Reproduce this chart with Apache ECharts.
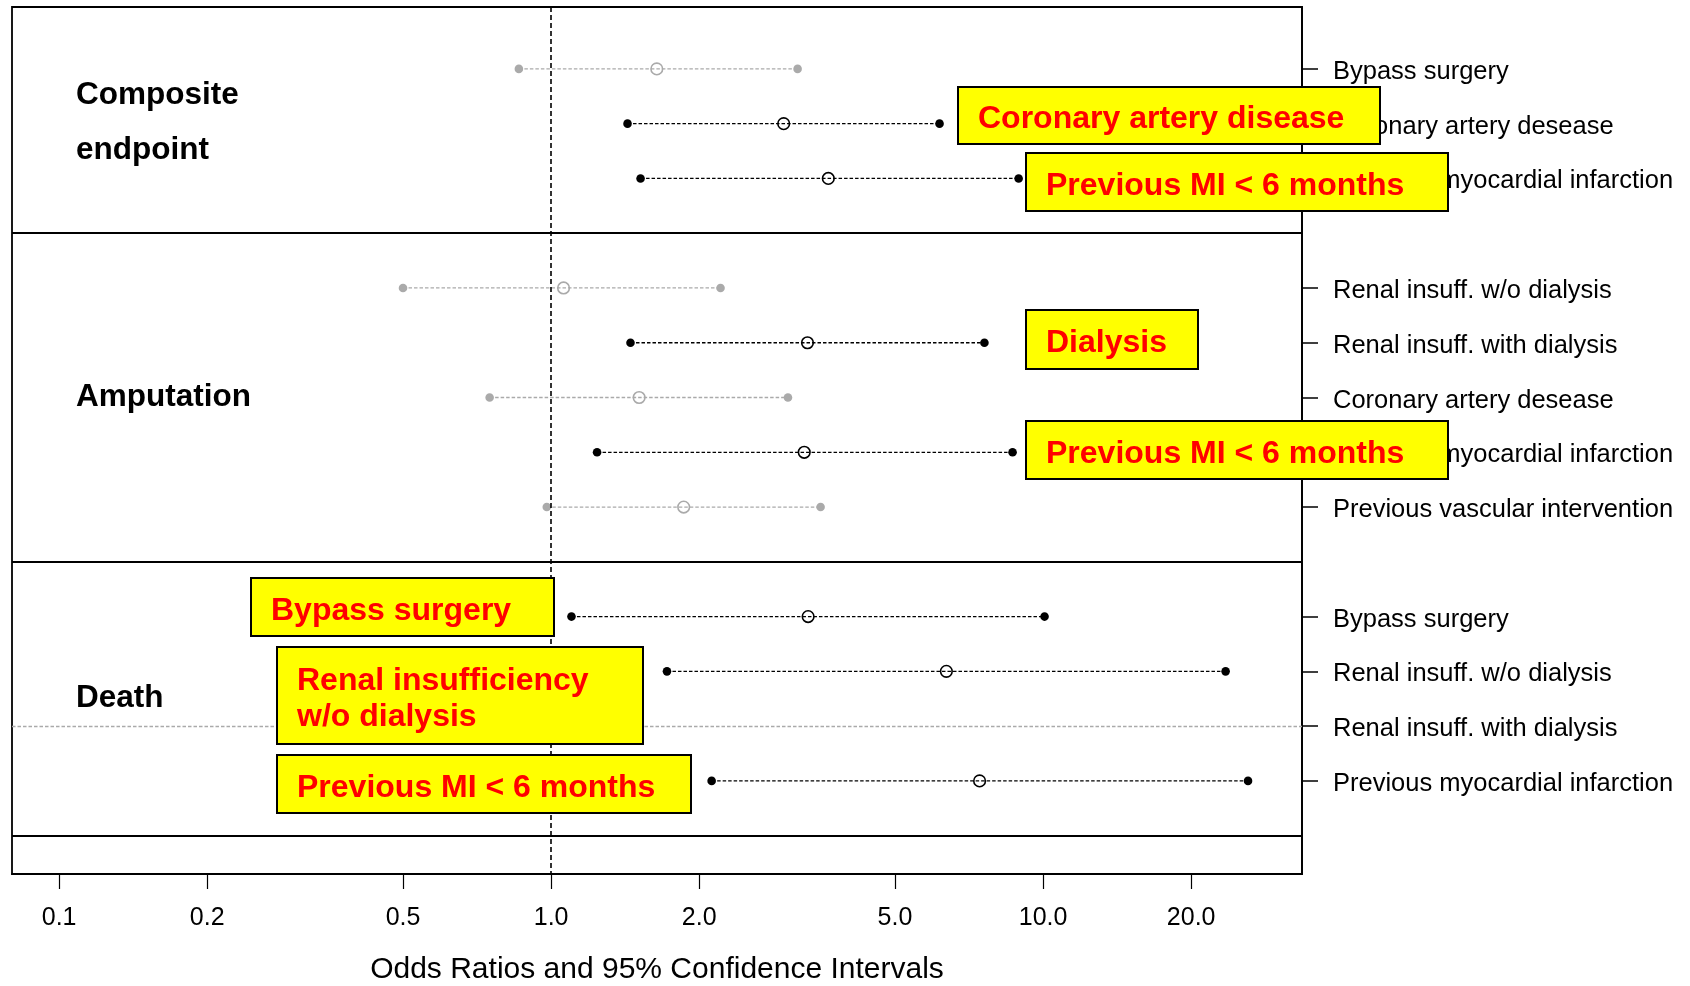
<!DOCTYPE html>
<html>
<head>
<meta charset="utf-8">
<script src="https://cdn.jsdelivr.net/npm/echarts@6/dist/echarts.min.js"></script>
<style>
  html, body { margin: 0; padding: 0; background: #ffffff; }
  #chart { width: 1690px; height: 986px; }
</style>
</head>
<body>
<div id="chart"></div>
<script>
const FONT = '"Liberation Sans", Arial, Helvetica, sans-serif';

// Endpoints and the risk factors evaluated for each of them
const endpointGroups = ['Composite\nendpoint', 'Amputation', 'Death'];
const riskFactors = [
  ['Bypass surgery', 'Coronary artery desease', 'Previous myocardial infarction'],
  ['Renal insuff. w/o dialysis', 'Renal insuff. with dialysis', 'Coronary artery desease',
   'Previous myocardial infarction', 'Previous vascular intervention'],
  ['Bypass surgery', 'Renal insuff. w/o dialysis', 'Renal insuff. with dialysis',
   'Previous myocardial infarction']
];

// Odds ratios with lower / upper 95% confidence limits (null = not estimable)
const ciLower   = [[0.86, 1.43, 1.52], [0.50, 1.45, 0.75, 1.24, 0.98], [1.10, 1.72, null, 2.12]];
const oddsRatio = [[1.64, 2.97, 3.66], [1.06, 3.32, 1.51, 3.27, 1.86], [3.33, 6.36, null, 7.43]];
const ciUpper   = [[3.17, 6.16, 8.92], [2.21, 7.60, 3.03, 8.67, 3.53], [10.07, 23.5, null, 26.1]];

// Log-scale tick marks of the odds-ratio axis
const xTicks = [0.1, 0.2, 0.5, 1, 2, 5, 10, 20];

// Highlighted significant risk factors
const callouts = ['Coronary artery disease', 'Previous MI < 6 months', 'Dialysis',
                  'Previous MI < 6 months', 'Bypass surgery', 'Renal insufficiency\nw/o dialysis',
                  'Previous MI < 6 months'];

// ---- row layout: one slot per risk factor, one empty slot after each endpoint block
const rowNames = {};
const intervals = [];
const missingRows = [];
const separators = [];
const groupCenters = [];
let slot = 0;
riskFactors.forEach((rows, g) => {
  const first = slot;
  rows.forEach((name, i) => {
    rowNames[slot] = name;
    if (oddsRatio[g][i] == null) {
      missingRows.push(slot);
    } else {
      intervals.push([ciLower[g][i], oddsRatio[g][i], ciUpper[g][i], slot]);
    }
    slot++;
  });
  groupCenters.push((first + slot - 1) / 2);
  separators.push(slot);
  slot++;
});
const rowSlots = Object.keys(rowNames).map(Number);

const GRAY = '#aaaaaa';

const chart = echarts.init(document.getElementById('chart'), null, { renderer: 'canvas' });

const option = {
  animation: false,
  backgroundColor: '#ffffff',
  textStyle: { fontFamily: FONT },
  grid: {
    left: 12, top: 7, width: 1290, height: 867,
    outerBoundsMode: 'none',
    containLabel: false,
    show: true, borderColor: '#000', borderWidth: 1.8, backgroundColor: 'transparent'
  },
  xAxis: {
    type: 'log',
    logBase: 10,
    min: 0.0802,
    max: 33.6,
    position: 'bottom',
    axisLine: { show: true, onZero: false, lineStyle: { color: '#000', width: 1.8 } },
    axisTick: { show: true, length: 15, lineStyle: { color: '#000', width: 1.2 }, customValues: xTicks },
    axisLabel: {
      customValues: xTicks, margin: 32, fontSize: 25, color: '#000', fontFamily: FONT,
      formatter: v => Number(v).toFixed(1)
    },
    splitLine: { show: false },
    minorTick: { show: false },
    name: 'Odds Ratios and 95% Confidence Intervals',
    nameLocation: 'middle',
    nameGap: 81,
    nameTextStyle: { fontSize: 30, color: '#000', fontFamily: FONT }
  },
  yAxis: {
    type: 'value',
    inverse: true,
    min: -1.13,
    max: 14.7,
    position: 'right',
    axisLine: { show: true, onZero: false, lineStyle: { color: '#000', width: 1.8 } },
    axisTick: { show: true, length: 16, lineStyle: { color: '#000', width: 1.5 }, customValues: rowSlots },
    axisLabel: {
      customValues: rowSlots, margin: 31, fontSize: 25.5, color: '#000', fontFamily: FONT,
      verticalAlign: 'top', lineHeight: 6,
      formatter: v => rowNames[Math.round(v)] || ''
    },
    splitLine: { show: false }
  },
  series: [{
    type: 'custom',
    data: intervals,
    encode: { x: [0, 1, 2], y: 3 },
    renderItem: (params, api) => {
      const lo = api.coord([api.value(0), api.value(3)]);
      const est = api.coord([api.value(1), api.value(3)]);
      const hi = api.coord([api.value(2), api.value(3)]);
      const color = api.value(0) < 1 ? GRAY : '#000000';
      return {
        type: 'group',
        children: [
          { type: 'line', shape: { x1: lo[0], y1: lo[1], x2: hi[0], y2: hi[1] },
            style: { stroke: color, lineWidth: 1.3, lineDash: [3.5, 2] } },
          { type: 'circle', shape: { cx: lo[0], cy: lo[1], r: 4.3 }, style: { fill: color } },
          { type: 'circle', shape: { cx: hi[0], cy: hi[1], r: 4.3 }, style: { fill: color } },
          { type: 'circle', shape: { cx: est[0], cy: est[1], r: 5.8 },
            style: { fill: 'none', stroke: color, lineWidth: 1.6 } }
        ]
      };
    },
    markLine: {
      silent: true,
      symbol: ['none', 'none'],
      label: { show: false },
      data: [
        { xAxis: 1, lineStyle: { color: '#000', width: 1.6, type: [5, 3] } },
        ...separators.map(s => ({ yAxis: s, lineStyle: { color: '#000', width: 1.8, type: 'solid' } })),
        ...missingRows.map(s => ({ yAxis: s, lineStyle: { color: GRAY, width: 1.3, type: [3.5, 2] } }))
      ]
    }
  }]
};

chart.setOption(option);

// Endpoint titles on the left, vertically centred on their block of rows
const groupTitles = endpointGroups.map((name, g) => {
  const y = chart.convertToPixel({ yAxisIndex: 0 }, groupCenters[g]);
  return {
    type: 'text', z: 50, x: 76, y: y - 0.5,
    style: {
      text: name, font: 'bold 31.5px ' + FONT, fill: '#000',
      verticalAlign: 'middle', align: 'left', lineHeight: 55
    }
  };
});

// Yellow call-out boxes
const calloutBoxes = [
  [958, 87, 422, 57],
  [1026, 153, 422, 58],
  [1026, 310, 172, 59],
  [1026, 421, 422, 58],
  [251, 578, 303, 58],
  [277, 647, 366, 97],
  [277, 755, 414, 58]
];
const calloutElements = [];
callouts.forEach((text, i) => {
  const [x, y, w, h] = calloutBoxes[i];
  calloutElements.push({
    type: 'rect', z: 100,
    shape: { x: x, y: y, width: w, height: h },
    style: { fill: '#ffff00', stroke: '#000', lineWidth: 2 }
  });
  calloutElements.push({
    type: 'text', z: 101, x: x + 20, y: y + h / 2 + 4,
    style: {
      text: text, font: 'bold 32px ' + FONT, fill: '#ff0000',
      verticalAlign: 'middle', align: 'left', lineHeight: 36
    }
  });
});

chart.setOption({ graphic: { elements: groupTitles.concat(calloutElements) } });
</script>
</body>
</html>
